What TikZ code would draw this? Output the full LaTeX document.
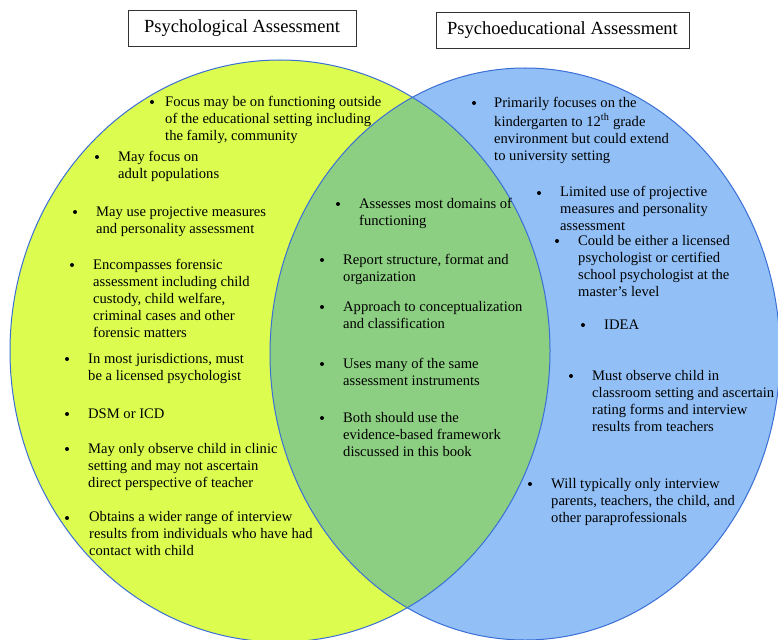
\documentclass[tikz,border=0pt]{standalone}
\usepackage{fontspec}
\setmainfont{Liberation Serif}
\definecolor{yel}{HTML}{DCFC50}
\definecolor{grn}{HTML}{8DCF82}
\definecolor{blu}{HTML}{91BFF6}
\definecolor{edge}{HTML}{3A6FD6}
\tikzset{
  item/.style={anchor=north west, inner sep=0pt, yshift=-1.5pt, align=left, font=\fontsize{14.6}{17}\selectfont},
  titlebox/.style={draw=black!80, line width=0.8pt, fill=white, minimum height=36pt, inner sep=0pt, font=\fontsize{18.5}{20}\selectfont},
  dot/.style={fill=black}
}
\begin{document}
\begin{tikzpicture}[x=1pt,y=-1pt]
\useasboundingbox (0,0) rectangle (778,639);
% ellipses
\fill[yel] (280,351) ellipse [x radius=270, y radius=291];
\fill[blu] (525,354) ellipse [x radius=255, y radius=286];
\begin{scope}
  \clip (280,351) ellipse [x radius=270, y radius=291];
  \fill[grn] (525,354) ellipse [x radius=255, y radius=286];
\end{scope}
\draw[edge, line width=1pt] (280,351) ellipse [x radius=270, y radius=291];
\draw[edge, line width=1pt] (525,354) ellipse [x radius=255, y radius=286];
% titles
\node[titlebox, minimum width=228pt] (t1) at (242,28) {Psychological Assessment};
\node[titlebox, minimum width=253pt] (t2) at (562.5,30) {Psychoeducational Assessment};
% left items
\fill[dot] (152,102) circle (2pt);
\node[item] (l1) at (165,93) {\strut Focus may be on functioning outside\\of the educational setting including\\the family, community};
\fill[dot] (97,157) circle (2pt);
\node[item] (l2) at (118,148) {\strut May focus on\\adult populations};
\fill[dot] (75,212) circle (2pt);
\node[item] (l3) at (96,203) {\strut May use projective measures\\and personality assessment};
\fill[dot] (72,265) circle (2pt);
\node[item] (l4) at (93,256) {\strut Encompasses forensic\\assessment including child\\custody, child welfare,\\criminal cases and other\\forensic matters};
\fill[dot] (67,359) circle (2pt);
\node[item] (l5) at (88,350) {\strut In most jurisdictions, must\\be a licensed psychologist};
\fill[dot] (67,414) circle (2pt);
\node[item] (l6) at (88,405) {\strut DSM or ICD};
\fill[dot] (67,449) circle (2pt);
\node[item] (l7) at (88,440) {\strut May only observe child in clinic\\setting and may not ascertain\\direct perspective of teacher};
\fill[dot] (67,518) circle (2pt);
\node[item] (l8) at (89,508) {\strut Obtains a wider range of interview\\results from individuals who have had\\contact with child};
% center items
\fill[dot] (338,204) circle (2pt);
\node[item] (c1) at (359,195) {\strut Assesses most domains of\\functioning};
\fill[dot] (322,260) circle (2pt);
\node[item] (c2) at (343,251) {\strut Report structure, format and\\organization};
\fill[dot] (322,307) circle (2pt);
\node[item] (c3) at (343,298) {\strut Approach to conceptualization\\and classification};
\fill[dot] (322,364) circle (2pt);
\node[item] (c4) at (343,355) {\strut Uses many of the same\\assessment instruments};
\fill[dot] (322,418) circle (2pt);
\node[item] (c5) at (343,409) {\strut Both should use the\\evidence-based framework\\discussed in this book};
% right items
\fill[dot] (474,103) circle (2pt);
\node[item] (r1) at (494,94) {\strut Primarily focuses on the\\kindergarten to 12\textsuperscript{th} grade\\environment but could extend\\to university setting};
\fill[dot] (539,193) circle (2pt);
\node[item] (r2) at (560,183) {\strut Limited use of projective\\measures and personality\\assessment};
\fill[dot] (557,241) circle (2pt);
\node[item] (r3) at (578,232) {\strut Could be either a licensed\\psychologist or certified\\school psychologist at the\\master’s level};
\fill[dot] (583,325) circle (2pt);
\node[item] (r4) at (604,316) {\strut IDEA};
\fill[dot] (571,376) circle (2pt);
\node[item] (r5) at (592,367) {\strut Must observe child in\\classroom setting and ascertain\\rating forms and interview\\results from teachers};
\fill[dot] (530,484) circle (2pt);
\node[item] (r6) at (551,475) {\strut Will typically only interview\\parents, teachers, the child, and\\other paraprofessionals};
\end{tikzpicture}
\end{document}
